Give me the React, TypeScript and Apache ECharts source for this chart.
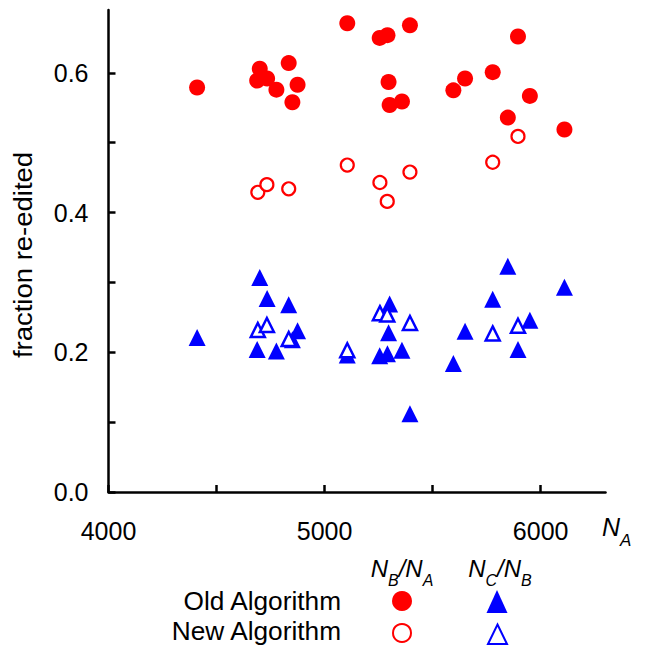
import React, { useEffect, useRef } from "react";
import * as echarts from "echarts";

const FONT = '"Liberation Sans", Arial, Helvetica, sans-serif';
const RED = "#ff0000";
const BLUE = "#0000ff";

// Old algorithm: N_A, N_B/N_A, N_C/N_B
const oldNA = [4410, 4688, 4700, 4734, 4777, 4834, 4851, 4875, 5105, 5255, 5291, 5296, 5301, 5358, 5395, 5596, 5650, 5778, 5848, 5895, 5950, 6110];
const oldBA = [0.579, 0.589, 0.606, 0.592, 0.576, 0.614, 0.558, 0.583, 0.671, 0.65, 0.654, 0.587, 0.554, 0.559, 0.668, 0.575, 0.592, 0.601, 0.536, 0.652, 0.567, 0.519];
const oldCB = [0.221, 0.204, 0.307, 0.277, 0.202, 0.268, 0.218, 0.231, 0.196, 0.195, 0.198, 0.228, 0.269, 0.203, 0.112, 0.184, 0.23, 0.276, 0.323, 0.204, 0.246, 0.293];

// New algorithm
const newNA = [4691, 4733, 4834, 5105, 5256, 5290, 5395, 5778, 5895];
const newBA = [0.429, 0.44, 0.434, 0.468, 0.443, 0.416, 0.458, 0.472, 0.509];
const newCB = [0.232, 0.239, 0.219, 0.203, 0.256, 0.254, 0.242, 0.227, 0.238];

const xTicks = [4000, 4500, 5000, 5500, 6000];
const xLabels = [4000, 5000, 6000];
const yTicks = [0, 0.1, 0.2, 0.3, 0.4, 0.5, 0.6];
const yLabels = [0, 0.2, 0.4, 0.6];

const zip = (xs: number[], ys: number[]) => xs.map((x, i) => [x, ys[i]]);

const subRich = {
  n: { fontSize: 24, fontStyle: "italic", fontFamily: FONT, color: "#000", lineHeight: 24, verticalAlign: "top" },
  s: { fontSize: 16, fontStyle: "italic", fontFamily: FONT, color: "#000", lineHeight: 32, verticalAlign: "bottom" },
};

export default function App() {
  const ref = useRef<HTMLDivElement>(null);
  useEffect(() => {
    if (!ref.current) return;
    const chart = echarts.init(ref.current, null, { renderer: "svg" });
    chart.setOption({
      animation: false,
      backgroundColor: "#fff",
      grid: { left: 108.5, top: 10, width: 497, height: 482, containLabel: false },
      xAxis: {
        type: "value",
        min: 4000,
        max: 6300,
        interval: 500,
        splitLine: { show: false },
        axisLine: { show: true, onZero: false, lineStyle: { color: "#000", width: 2.5 } },
        axisTick: { show: true, inside: true, length: 7, customValues: xTicks, lineStyle: { color: "#000", width: 2.5 } },
        axisLabel: {
          customValues: xLabels,
          margin: 26,
          fontSize: 25,
          fontFamily: FONT,
          color: "#000",
          formatter: (v: number) => String(v),
        },
      },
      yAxis: {
        type: "value",
        min: 0,
        max: 0.69,
        interval: 0.1,
        splitLine: { show: false },
        axisLine: { show: true, onZero: false, lineStyle: { color: "#000", width: 2.5 } },
        axisTick: { show: true, inside: true, length: 7, customValues: yTicks, lineStyle: { color: "#000", width: 2.5 } },
        axisLabel: {
          customValues: yLabels,
          margin: 20,
          fontSize: 25,
          fontFamily: FONT,
          color: "#000",
          formatter: (v: number) => v.toFixed(1),
        },
      },
      series: [
        {
          name: "Old N_B/N_A",
          type: "scatter",
          symbol: "circle",
          symbolSize: 16,
          data: zip(oldNA, oldBA),
          itemStyle: { color: RED, opacity: 1 },
        },
        {
          name: "Old N_C/N_B",
          type: "scatter",
          symbol: "triangle",
          symbolSize: [17, 17],
          data: zip(oldNA, oldCB),
          itemStyle: { color: BLUE, opacity: 1 },
        },
        {
          name: "New N_B/N_A",
          type: "scatter",
          symbol: "circle",
          symbolSize: 13,
          data: zip(newNA, newBA),
          itemStyle: { color: "#fff", borderColor: RED, borderWidth: 2.2, opacity: 1 },
        },
        {
          name: "New N_C/N_B",
          type: "scatter",
          symbol: "triangle",
          symbolSize: [14, 14],
          data: zip(newNA, newCB),
          itemStyle: { color: "#fff", borderColor: BLUE, borderWidth: 2.5, opacity: 1 },
        },
      ],
      graphic: [
        {
          type: "text",
          x: 23,
          y: 255,
          rotation: Math.PI / 2,
          scaleX: 1.1,
          style: {
            text: "fraction re-edited",
            fontSize: 25,
            fontFamily: FONT,
            fill: "#000",
            align: "center",
            verticalAlign: "middle",
          },
        },
        {
          type: "text",
          x: 602,
          y: 514,
          style: {
            text: "{n|N}{s|A}",
            rich: {
              n: { fontSize: 25, fontStyle: "italic", fontFamily: FONT, fill: "#000", lineHeight: 25, verticalAlign: "top" },
              s: { fontSize: 17, fontStyle: "italic", fontFamily: FONT, fill: "#000", lineHeight: 35, verticalAlign: "bottom" },
            },
          },
        },
        {
          type: "text",
          x: 402,
          y: 572,
          style: {
            text: "{n|N}{s|B}{n|/N}{s|A}",
            align: "center",
            verticalAlign: "middle",
            rich: subRich,
          },
        },
        {
          type: "text",
          x: 500,
          y: 572,
          style: {
            text: "{n|N}{s|C}{n|/N}{s|B}",
            align: "center",
            verticalAlign: "middle",
            rich: subRich,
          },
        },
        {
          type: "text",
          x: 341,
          y: 601,
          scaleX: 1.05,
          style: { text: "Old Algorithm", fontSize: 25, fontFamily: FONT, fill: "#000", align: "right", verticalAlign: "middle" },
        },
        {
          type: "text",
          x: 341,
          y: 631,
          scaleX: 1.05,
          style: { text: "New Algorithm", fontSize: 25, fontFamily: FONT, fill: "#000", align: "right", verticalAlign: "middle" },
        },
        {
          type: "circle",
          shape: { cx: 402, cy: 601, r: 10 },
          style: { fill: RED },
        },
        {
          type: "circle",
          shape: { cx: 402, cy: 633, r: 9 },
          style: { fill: "#fff", stroke: RED, lineWidth: 2 },
        },
        {
          type: "polygon",
          shape: { points: [[497, 590], [507.5, 613], [486.5, 613]] },
          style: { fill: BLUE },
        },
        {
          type: "polygon",
          shape: { points: [[497.5, 624.5], [507, 644], [488, 644]] },
          style: { fill: "#fff", stroke: BLUE, lineWidth: 2 },
        },
      ],
    });
    return () => chart.dispose();
  }, []);
  return (
    <div
      ref={ref}
      style={{ position: "fixed", left: 0, top: 0, width: 646, height: 648, background: "#fff" }}
    />
  );
}
